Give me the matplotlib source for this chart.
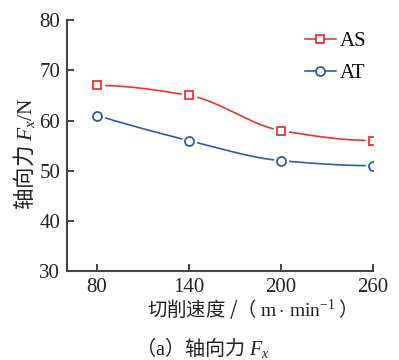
import numpy as np
import matplotlib
matplotlib.use("Agg")
import matplotlib.pyplot as plt
from matplotlib.lines import Line2D

plt.rcParams['font.family'] = ['Liberation Serif', 'Noto Sans CJK SC', 'DejaVu Serif']
plt.rcParams['mathtext.fontset'] = 'custom'
plt.rcParams['mathtext.rm'] = 'Liberation Serif'
plt.rcParams['mathtext.it'] = 'Liberation Serif:italic'

speed = [80, 140, 200, 260]
force_as = [67, 65, 58, 56]
force_at = [61, 56, 52, 51]
series_names = ["AS", "AT"]


def pchip(x, y, n=200):
    # monotone cubic hermite for a smooth curve through the points
    x = np.asarray(x, float)
    y = np.asarray(y, float)
    h = np.diff(x)
    d = np.diff(y) / h
    m = np.zeros_like(y)
    for k in range(1, len(x) - 1):
        if d[k - 1] * d[k] > 0:
            w1 = 2 * h[k] + h[k - 1]
            w2 = h[k] + 2 * h[k - 1]
            m[k] = (w1 + w2) / (w1 / d[k - 1] + w2 / d[k])
    m[0] = ((2 * h[0] + h[1]) * d[0] - h[0] * d[1]) / (h[0] + h[1])
    if np.sign(m[0]) != np.sign(d[0]):
        m[0] = 0
    m[-1] = ((2 * h[-1] + h[-2]) * d[-1] - h[-1] * d[-2]) / (h[-1] + h[-2])
    if np.sign(m[-1]) != np.sign(d[-1]):
        m[-1] = 0
    xs = np.linspace(x[0], x[-1], n)
    idx = np.clip(np.searchsorted(x, xs) - 1, 0, len(x) - 2)
    t = (xs - x[idx]) / h[idx]
    h00 = 2 * t**3 - 3 * t**2 + 1
    h10 = t**3 - 2 * t**2 + t
    h01 = -2 * t**3 + 3 * t**2
    h11 = t**3 - t**2
    ys = h00 * y[idx] + h10 * h[idx] * m[idx] + h01 * y[idx + 1] + h11 * h[idx] * m[idx + 1]
    return xs, ys


fig = plt.figure(figsize=(3.99, 3.6), dpi=100)
ax = fig.add_axes([0.168, 0.247, 0.767, 0.697])

red = '#e8352c'
blue = '#2a5db0'
for vals, col, mk in [(force_as, red, 's'), (force_at, blue, 'o')]:
    xs, ys = pchip(speed, vals)
    ax.plot(xs, ys, color=col, lw=1.2, zorder=2)
    ax.plot(speed, vals, linestyle='none', marker=mk, markersize=10,
            markerfacecolor='white', markeredgecolor='white', zorder=3)
    ax.plot(speed, vals, linestyle='none', marker=mk, markersize=6 if mk == 's' else 6.5,
            markerfacecolor='white', markeredgecolor=col, markeredgewidth=1.3, zorder=4)

handles = [
    Line2D([], [], color=red, lw=1.2, marker='s', markersize=6,
           markerfacecolor='white', markeredgecolor=red, markeredgewidth=1.3),
    Line2D([], [], color=blue, lw=1.2, marker='o', markersize=6.5,
           markerfacecolor='white', markeredgecolor=blue, markeredgewidth=1.3),
]
ax.legend(handles, series_names, loc='upper right', bbox_to_anchor=(1.02, 1.005),
          frameon=False, fontsize=15, handlelength=1.5, handletextpad=0.2,
          labelspacing=0.6, borderaxespad=0.2)

ax.set_xlim(60.4, 260)
ax.set_ylim(30, 80)
ax.set_xticks(speed)
ax.set_yticks([30, 40, 50, 60, 70, 80])
ax.tick_params(direction='in', length=5, width=1.2, labelsize=15, colors='#222222', pad=5)
for s in ['top', 'right']:
    ax.spines[s].set_visible(False)
for s in ['left', 'bottom']:
    ax.spines[s].set_linewidth(1.5)
    ax.spines[s].set_color('#444444')

ax.set_ylabel('轴向力 $F_x\\mathrm{/N}$', fontsize=15.5, color='#222222',
              family='Noto Sans CJK SC')
ax.yaxis.set_label_coords(-0.098, 0.466)
ax.set_xlabel('切削速度 /（ $\\mathrm{m}\\cdot\\,\\mathrm{min}^{-1}$ ）', fontsize=14,
              color='#222222', family='Noto Sans CJK SC')
ax.xaxis.set_label_coords(0.588, -0.105)
fig.text(0.506, 0.015, '（$\\mathrm{a}$）轴向力 $F_x$', ha='center', fontsize=14.5,
         color='#222222', family='Noto Sans CJK SC')

fig.savefig('out.png', dpi=100)
